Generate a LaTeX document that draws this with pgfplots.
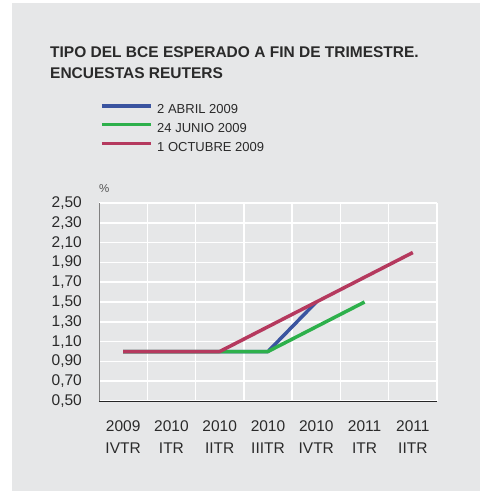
\documentclass[border=0pt]{standalone}
\usepackage{pgfplots}
\pgfplotsset{compat=1.18}
\usepackage{fontspec}
\setmainfont{Liberation Sans}
\definecolor{bgc}{HTML}{E6E7E8}
\definecolor{cblue}{HTML}{3A54A0}
\definecolor{cgreen}{HTML}{2DB04B}
\definecolor{cred}{HTML}{B5395E}
\definecolor{txt}{HTML}{2A2A2A}
\begin{document}
\begin{tikzpicture}
\fill[white] (0pt,0pt) rectangle (480pt,-491pt);
\fill[bgc] (12pt,-3pt) rectangle (480pt,-491pt);
\node[anchor=base west, inner sep=0pt, align=left, text=txt, font=\fontsize{15.5}{21}\selectfont\bfseries] at (50pt,-78pt) {TIPO DEL BCE ESPERADO A FIN DE TRIMESTRE.\\ENCUESTAS REUTERS};
\node[anchor=base west, inner sep=0pt, text=txt!80, font=\fontsize{11.5}{13}\selectfont] at (99pt,-192pt) {\%};
\begin{axis}[
  at={(99pt,-401pt)}, anchor=south west,
  width=338pt, height=198pt, scale only axis,
  xmin=-0.5, xmax=6.5, ymin=0.5, ymax=2.5,
  axis lines=left, axis line style={-},
  x axis line style={black!85, line width=0.9pt},
  y axis line style={gray, line width=0.9pt},
  axis background/.style={fill=bgc},
  xtick={0,...,6},
  xticklabels={{2009\\IVTR},{2010\\ITR},{2010\\IITR},{2010\\IIITR},{2010\\IVTR},{2011\\ITR},{2011\\IITR}},
  minor xtick={0.5,1.5,2.5,3.5,4.5,5.5,6.5},
  ytick={0.5,0.7,0.9,1.1,1.3,1.5,1.7,1.9,2.1,2.3,2.5},
  major tick length=0pt, minor tick length=0pt,
  ymajorgrids, xminorgrids,
  grid style={white, line width=1.5pt},
  minor grid style={white, line width=1.5pt},
  /pgf/number format/assume math mode=true,
  yticklabel={\pgfmathprintnumber[fixed, fixed zerofill, precision=2, use comma]{\tick}},
  yticklabel style={inner sep=0pt, anchor=east, xshift=-17pt, text=txt, font=\fontsize{15.5}{18}\selectfont},
  xticklabel style={inner sep=0pt, anchor=north, yshift=-19pt, align=center, text=txt, font=\fontsize{15.5}{22}\selectfont},
  legend style={at={(0.003,1.5)}, anchor=north west, draw=none, fill=none, inner sep=0pt,
    font=\fontsize{13}{15}\selectfont, text=txt, row sep=7.5pt,
    nodes={inner sep=0pt, text height=9.5pt, text depth=1.5pt}},
  legend cell align=left,
  legend image code/.code={\draw[#1, line width=3.5pt] (0pt,4pt) -- (49pt,4pt);},
  /tikz/every even column/.append style={column sep=0pt},
  legend style={/tikz/every odd column/.append style={column sep=4.5pt}},
]
\addplot[cblue, line width=3.5pt, line join=round] coordinates {(0,1) (1,1) (2,1) (3,1) (4,1.5)};
\addlegendentry{2 ABRIL 2009}
\addplot[cgreen, line width=3.5pt, line join=round] coordinates {(0,1) (1,1) (2,1) (3,1) (4,1.25) (5,1.5)};
\addlegendentry{24 JUNIO 2009}
\addplot[cred, line width=3.5pt, line join=round] coordinates {(0,1) (1,1) (2,1) (3,1.25) (4,1.5) (5,1.75) (6,2.0)};
\addlegendentry{1 OCTUBRE 2009}
\end{axis}
\end{tikzpicture}
\end{document}
